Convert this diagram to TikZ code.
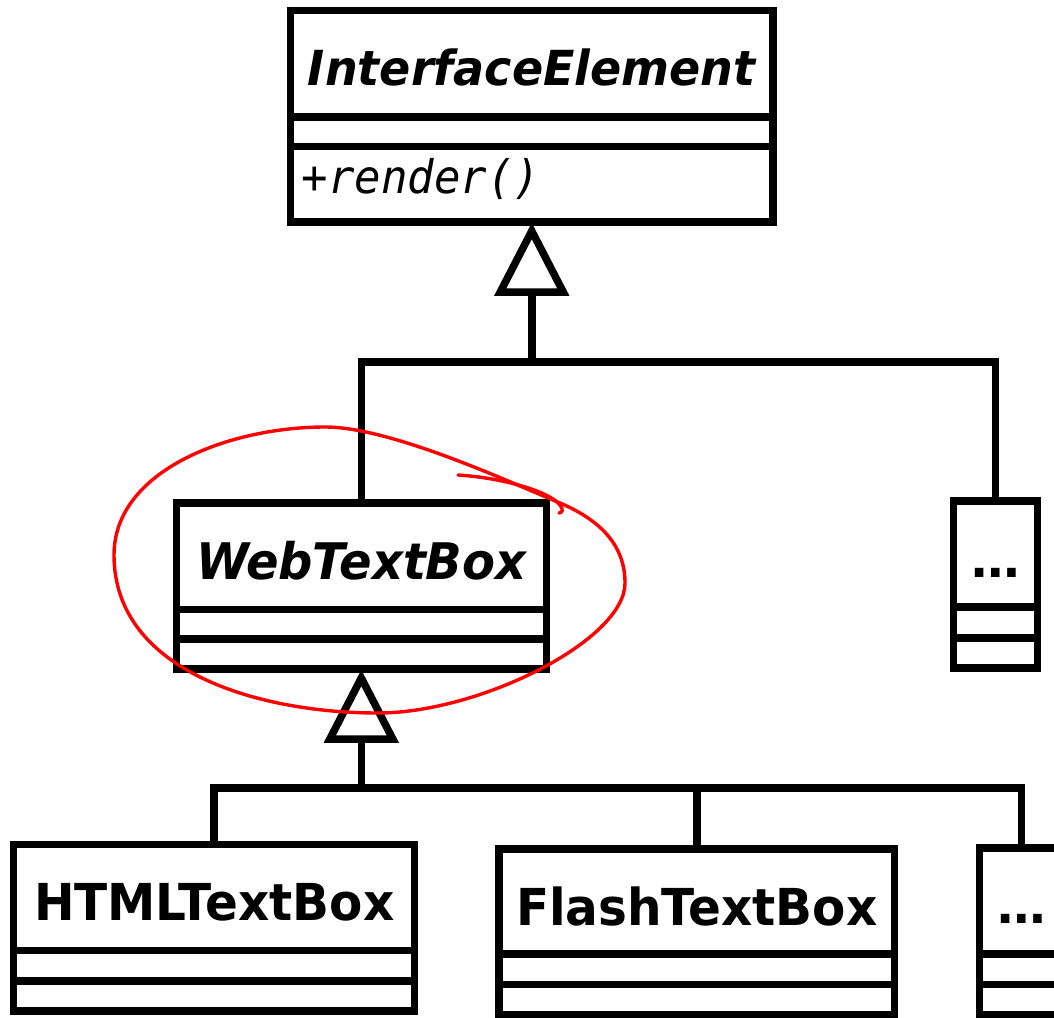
\documentclass[tikz,border=0pt]{standalone}
\usepackage{graphicx}
\usepackage{fontspec}
\setmainfont{DejaVu Sans}
\setmonofont{DejaVu Sans Mono}
\usetikzlibrary{calc}
\newcommand{\tallertext}[1]{\scalebox{1}[1.05]{#1}}
\begin{document}
\begin{tikzpicture}[x=1pt,y=-1pt,
  umlbox/.style={draw, line width=7.5pt, outer sep=0pt, inner sep=0pt},
  conn/.style={line width=7.5pt},
  divider/.style={line width=7.5pt},
  hand/.style={draw=red, line width=3.4pt, line cap=round, line join=round},
  titlefont/.style={font=\fontsize{46}{50}\selectfont\bfseries\itshape, inner sep=0pt},
  webfont/.style={font=\fontsize{48}{52}\selectfont\bfseries\itshape, inner sep=0pt},
  namefont/.style={font=\fontsize{48.5}{52}\selectfont\bfseries, inner sep=0pt},
  opfont/.style={font=\fontsize{44}{46}\selectfont\ttfamily\itshape, inner sep=0pt}]
\useasboundingbox (0,0) rectangle (1054,1017);
\fill[white] (0,0) rectangle (1054,1017);

% class boxes
\node[umlbox, minimum width=482.5pt, minimum height=211.5pt] (ie) at (531.75,116.25) {};
\node[umlbox, minimum width=370pt, minimum height=166pt] (web) at (361.3,586) {};
\node[umlbox, minimum width=84pt, minimum height=167pt] (more1) at (995.7,584.7) {};
\node[umlbox, minimum width=401pt, minimum height=166.3pt] (html) at (214.2,927.85) {};
\node[umlbox, minimum width=395.9pt, minimum height=165.7pt] (flash) at (696.75,931.65) {};
\node[umlbox, minimum width=84pt, minimum height=166.5pt] (more2) at (1021.7,931.25) {};

% compartments
\draw[divider] (ie.west |- 0,117) -- (ie.east |- 0,117);
\draw[divider] (ie.west |- 0,146.5) -- (ie.east |- 0,146.5);
\draw[divider] (web.west |- 0,609.5) -- (web.east |- 0,609.5);
\draw[divider] (web.west |- 0,639) -- (web.east |- 0,639);
\draw[divider] (more1.west |- 0,607.2) -- (more1.east |- 0,607.2);
\draw[divider] (more1.west |- 0,637.8) -- (more1.east |- 0,637.8);
\draw[divider] (html.west |- 0,950.5) -- (html.east |- 0,950.5);
\draw[divider] (html.west |- 0,981) -- (html.east |- 0,981);
\draw[divider] (flash.west |- 0,953.8) -- (flash.east |- 0,953.8);
\draw[divider] (flash.west |- 0,984.5) -- (flash.east |- 0,984.5);
\draw[divider] (more2.west |- 0,953.8) -- (more2.east |- 0,953.8);
\draw[divider] (more2.west |- 0,984.5) -- (more2.east |- 0,984.5);

% texts
\node[titlefont, anchor=base] (ieName) at (531.75,85) {\tallertext{InterfaceElement}};
\node[opfont, anchor=base west] (ieOp) at (301.5,193.3) {\tallertext{+render()}};
\node[webfont, anchor=base] (webName) at (361.3,579) {\tallertext{WebTextBox}};
\node[namefont, anchor=base] (more1Name) at (995.7,577.7) {…};
\node[namefont, anchor=base] (htmlName) at (214.2,920) {\tallertext{HTMLTextBox}};
\node[namefont, anchor=base] (flashName) at (696.75,925) {\tallertext{FlashTextBox}};
\node[namefont, anchor=base] (more2Name) at (1021.7,923.4) {…};

% generalisation 1
\coordinate (j1) at (531.75,362);
\coordinate (t1) at ($(ie.south)+(0,70)$);
\draw[conn] (web.north) |- (j1) -| (more1.north);
\draw[conn] (j1) -- (t1);
\draw[conn, fill=white] ($(ie.south)+(0,9)$) -- ($(ie.south)+(31.5,70)$) -- ($(ie.south)+(-31.5,70)$) -- cycle;

% generalisation 2
\coordinate (j2) at (361.3,788);
\coordinate (t2) at ($(web.south)+(0,70)$);
\draw[conn] (html.north) |- (j2) -| (more2.north);
\draw[conn] (flash.north) -- (flash.north |- j2);
\draw[conn] (j2) -- (t2);
\draw[conn, fill=white] ($(web.south)+(0,9)$) -- ($(web.south)+(31.5,70)$) -- ($(web.south)+(-31.5,70)$) -- cycle;

% hand-drawn red mark
\draw[hand] (114,555) .. controls (114,470) and (230,427) .. (325,427)
  .. controls (390,427) and (505,480) .. (560,503)
  .. controls (600,520) and (625,545) .. (625,583)
  .. controls (625,640) and (480,713) .. (378,713)
  .. controls (260,713) and (114,672) .. (114,555) -- cycle;
\draw[hand] (458,475) .. controls (505,478) and (550,492) .. (560,505)
  .. controls (564,510) and (562,513) .. (559,513);
\end{tikzpicture}
\end{document}
